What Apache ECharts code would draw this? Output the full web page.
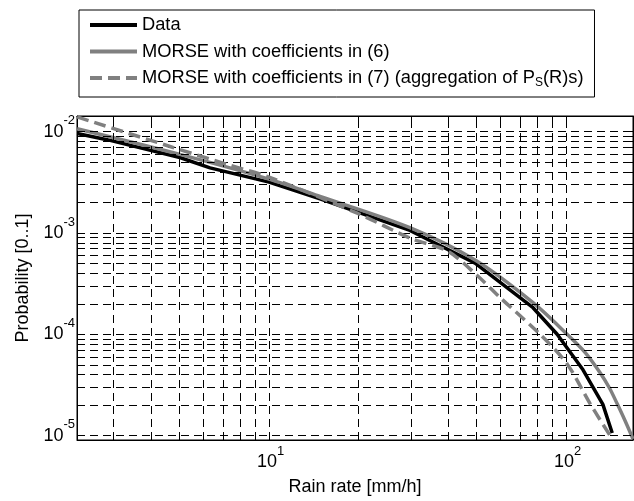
<!DOCTYPE html>
<html>
<head>
<meta charset="utf-8">
<script src="https://cdn.jsdelivr.net/npm/echarts@6/dist/echarts.min.js"></script>
<style>
  html, body { margin: 0; padding: 0; background: #fff; }
  #chartRain { width: 634px; height: 501px; }
</style>
</head>
<body>
<div id="chartRain"></div>
<script>
  // series names
  var nameData = 'Data';
  var nameMorse6 = 'MORSE with coefficients in (6)';
  var nameMorse7 = 'MORSE with coefficients in (7) (aggregation of P_S(R)s)';

  // measured exceedance probability
  var dataRain = [2.26, 2.85, 5.01, 6.33, 10, 14.85, 29.8, 49.4, 77.4, 93.3, 114, 133, 143];
  var dataProb = [9.6e-3, 8.35e-3, 5.57e-3, 4.4e-3, 3.18e-3, 2.17e-3, 1.06e-3, 5.04e-4, 1.83e-4, 1.0e-4, 4.46e-5, 2.03e-5, 1.06e-5];

  // MORSE, coefficients (6)
  var morse6Rain = [2.26, 5.01, 10, 14.85, 29.8, 49.4, 77.4, 100.8, 116, 130, 140, 148.5, 158, 168];
  var morse6Prob = [1.07e-2, 5.97e-3, 3.4e-3, 2.3e-3, 1.13e-3, 5.4e-4, 2.05e-4, 1.0e-4, 6.6e-5, 4.2e-5, 2.95e-5, 2.07e-5, 1.4e-5, 9.25e-6];

  // MORSE, coefficients (7)
  var morse7Rain = [2.26, 4.64, 7.22, 10, 20, 30, 40, 50, 60, 81.7, 100.8, 120.4, 143];
  var morse7Prob = [1.4e-2, 7.15e-3, 4.76e-3, 3.56e-3, 1.55e-3, 8.84e-4, 6.6e-4, 3.85e-4, 2.3e-4, 1.0e-4, 5.1e-5, 2.07e-5, 9.25e-6];

  // axis ranges and ticks
  var xMin = 2.257, xMax = 168;
  var yMin = 9.04e-6, yMax = 1.43e-2;
  var xMajor = [10, 100];
  var yMajor = [1e-5, 1e-4, 1e-3, 1e-2];
  var xTicks = [3, 4, 5, 6, 7, 8, 9, 10, 20, 30, 40, 50, 60, 70, 80, 90, 100];
  var yTicks = [
    1e-5, 2e-5, 3e-5, 4e-5, 5e-5, 6e-5, 7e-5, 8e-5, 9e-5,
    1e-4, 2e-4, 3e-4, 4e-4, 5e-4, 6e-4, 7e-4, 8e-4, 9e-4,
    1e-3, 2e-3, 3e-3, 4e-3, 5e-3, 6e-3, 7e-3, 8e-3, 9e-3,
    1e-2
  ];

  var fontName = 'Liberation Sans';

  function toPairs(xs, ys){
    var out = [];
    for (var i = 0; i < xs.length; i++) out.push([xs[i], ys[i]]);
    return out;
  }

  function powLabel(v){
    var e = Math.round(Math.log10(v));
    return '{b|10}{s|' + e + '}';
  }

  var powRich = {
    b: { fontSize: 18, fontFamily: fontName, color: '#000', lineHeight: 35 },
    s: { fontSize: 13, fontFamily: fontName, color: '#000', lineHeight: 13, verticalAlign: 'top' }
  };

  var gridLines = [];
  xTicks.forEach(function(v){ gridLines.push({ xAxis: v }); });
  yTicks.forEach(function(v){ gridLines.push({ yAxis: v }); });

  var tickStyle = { show: true, inside: true, length: 5, lineStyle: { color: '#000', width: 1 } };

  var option = {
    animation: false,
    backgroundColor: '#fff',
    textStyle: { fontFamily: fontName, color: '#000' },
    grid: { left: 77, right: 1, top: 116, bottom: 57, show: true, borderColor: '#000', borderWidth: 1, backgroundColor: 'transparent' },
    legend: {
      data: [nameData, nameMorse6, nameMorse7],
      orient: 'vertical',
      left: 79,
      top: 10,
      padding: [4, 11, 8, 9],
      itemGap: 4.5,
      itemWidth: 47,
      itemHeight: 14,
      backgroundColor: '#fff',
      borderColor: '#000',
      borderWidth: 1,
      borderRadius: 0,
      itemStyle: { opacity: 0 },
      lineStyle: { width: 4 },
      textStyle: {
        fontSize: 18.3, fontFamily: fontName, color: '#000', lineHeight: 22,
        rich: { sub: { fontSize: 12, fontFamily: fontName, color: '#000', lineHeight: 12, verticalAlign: 'bottom' } }
      },
      formatter: function(name){
        return name.replace('P_S', 'P{sub|S}');
      }
    },
    xAxis: [{
      type: 'log', min: xMin, max: xMax, position: 'bottom',
      name: 'Rain rate [mm/h]', nameLocation: 'middle', nameGap: 38,
      nameTextStyle: { fontSize: 18, fontFamily: fontName, color: '#000' },
      axisLine: { show: true, onZero: false, lineStyle: { color: '#000', width: 1 } },
      axisTick: Object.assign({ customValues: xTicks }, tickStyle),
      minorTick: { show: false },
      axisLabel: { customValues: xMajor, margin: 5, padding: [0, 0, 0, 3], formatter: powLabel, rich: powRich },
      splitLine: { show: false }
    }, {
      type: 'log', min: xMin, max: xMax, position: 'top',
      axisLine: { show: true, onZero: false, lineStyle: { color: '#000', width: 1 } },
      axisTick: Object.assign({ customValues: xTicks }, tickStyle),
      axisLabel: { show: false },
      splitLine: { show: false }
    }],
    yAxis: [{
      type: 'log', min: yMin, max: yMax, position: 'left',
      name: 'Probability [0..1]', nameLocation: 'middle', nameGap: 41, nameRotate: 90,
      nameTextStyle: { fontSize: 18, fontFamily: fontName, color: '#000' },
      axisLine: { show: true, onZero: false, lineStyle: { color: '#000', width: 1 } },
      axisTick: Object.assign({ customValues: yTicks }, tickStyle),
      axisLabel: { customValues: yMajor, margin: 2, formatter: powLabel, rich: powRich },
      splitLine: { show: false }
    }, {
      type: 'log', min: yMin, max: yMax, position: 'right',
      axisLine: { show: true, onZero: false, lineStyle: { color: '#000', width: 1 } },
      axisTick: Object.assign({ customValues: yTicks }, tickStyle),
      axisLabel: { show: false },
      splitLine: { show: false }
    }],
    series: [
      {
        name: 'grid',
        type: 'line',
        data: [],
        z: 1,
        silent: true,
        markLine: {
          silent: true,
          precision: 12,
          symbol: ['none', 'none'],
          label: { show: false },
          lineStyle: { color: '#000', width: 1, type: [8, 5] },
          emphasis: { disabled: true },
          data: gridLines
        }
      },
      {
        name: nameData, type: 'line', z: 3,
        data: toPairs(dataRain, dataProb),
        symbol: 'none',
        lineStyle: { color: '#000', width: 3.5 },
        itemStyle: { color: '#000' }
      },
      {
        name: nameMorse6, type: 'line', z: 4,
        data: toPairs(morse6Rain, morse6Prob),
        symbol: 'none', smooth: 0.3,
        lineStyle: { color: '#808080', width: 3.5 },
        itemStyle: { color: '#808080' }
      },
      {
        name: nameMorse7, type: 'line', z: 5,
        data: toPairs(morse7Rain, morse7Prob),
        symbol: 'none', smooth: 0.3,
        lineStyle: { color: '#808080', width: 3.5, type: [12, 6] },
        itemStyle: { color: '#808080' }
      }
    ]
  };

  var myChart = echarts.init(document.getElementById('chartRain'));
  option && myChart.setOption(option, true);
</script>
</body>
</html>
